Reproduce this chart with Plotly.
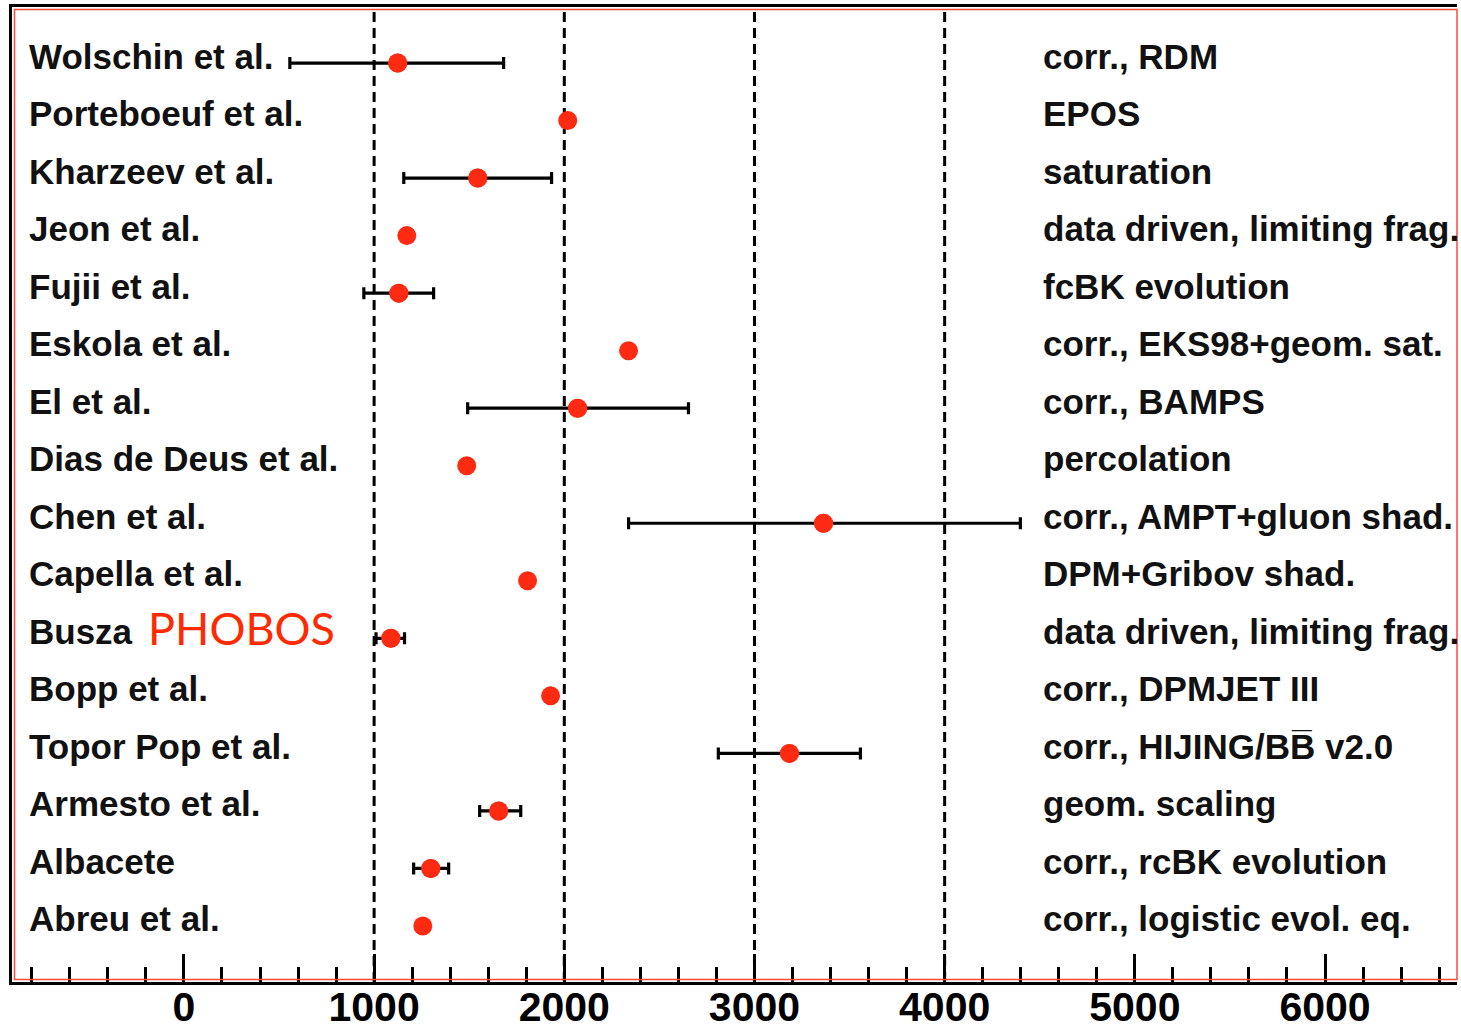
import plotly.graph_objects as go

# ---- data (top row first) ----
authors = ["Wolschin et al.", "Porteboeuf et al.", "Kharzeev et al.", "Jeon et al.",
           "Fujii et al.", "Eskola et al.", "El et al.", "Dias de Deus et al.",
           "Chen et al.", "Capella et al.", "Busza", "Bopp et al.",
           "Topor Pop et al.", "Armesto et al.", "Albacete", "Abreu et al."]
models = ["corr., RDM", "EPOS", "saturation", "data driven, limiting frag.",
          "fcBK evolution", "corr., EKS98+geom. sat.", "corr., BAMPS", "percolation",
          "corr., AMPT+gluon shad.", "DPM+Gribov shad.", "data driven, limiting frag.",
          "corr., DPMJET III", "corr., HIJING/BB\u0305 v2.0", "geom. scaling",
          "corr., rcBK evolution", "corr., logistic evol. eq."]
values = [1124, 2018, 1545, 1172, 1130, 2338, 2070, 1487, 3363, 1807, 1088, 1928,
          3184, 1655, 1298, 1256]
err_low = [557, None, 1156, None, 946, None, 1492, None, 2338, None, 1010, None,
           2810, 1555, 1208, None]
err_high = [1681, None, 1933, None, 1313, None, 2653, None, 4398, None, 1160, None,
            3557, 1771, 1392, None]
phobos_row = "Busza"
ref_lines = [1000, 2000, 3000, 4000]

n = len(authors)
rows = [n - 1 - i for i in range(n)]  # top row has highest y

ex_x, ex_y, ex_p, ex_m = [], [], [], []
for v, r, lo, hi in zip(values, rows, err_low, err_high):
    if lo is not None:
        ex_x.append(v); ex_y.append(r); ex_p.append(hi - v); ex_m.append(v - lo)

RED = "#ff2a12"
fig = go.Figure()
fig.add_trace(go.Scatter(
    x=ex_x, y=ex_y, mode="markers",
    marker=dict(size=19, color=RED),
    error_x=dict(type="data", symmetric=False, array=ex_p, arrayminus=ex_m,
                 color="black", thickness=3.2, width=6),
    showlegend=False, hoverinfo="skip"))
fig.add_trace(go.Scatter(
    x=values, y=rows, mode="markers",
    marker=dict(size=19, color=RED),
    showlegend=False, hoverinfo="skip"))

for xv in ref_lines:
    fig.add_shape(type="line", xref="x", yref="paper", x0=xv, x1=xv, y0=0, y1=1,
                  line=dict(color="black", width=3, dash="10px,6px"), layer="below")

LBL = dict(family="Liberation Sans, Arial, sans-serif", size=35, color="#111111",
           weight="bold")
for a, m, r in zip(authors, models, rows):
    fig.add_annotation(x=0.0105, xref="paper", y=r, yref="y", text=a, showarrow=False,
                       xanchor="left", yanchor="middle", yshift=7, font=LBL)
    fig.add_annotation(x=0.712, xref="paper", y=r, yref="y", text=m, showarrow=False,
                       xanchor="left", yanchor="middle", yshift=7, font=LBL)
    if a == phobos_row:
        fig.add_annotation(x=0.093, xref="paper", y=r, yref="y", text="PHOBOS",
                           showarrow=False, xanchor="left", yanchor="middle", yshift=10,
                           font=dict(family="Lato, Open Sans, sans-serif", size=45,
                                     color="#ff2a00"))

# red inner frame
fig.add_shape(type="rect", xref="paper", yref="paper",
              x0=2.5 / 1445, x1=1, y0=2.5 / 974, y1=1 - 2.5 / 974,
              line=dict(color="#ff4a3a", width=1.5), layer="above")

fig.update_layout(
    width=1461, height=1031,
    margin=dict(l=12, r=4, t=7, b=49),
    paper_bgcolor="white", plot_bgcolor="white",
    xaxis=dict(range=[-904, 6694], dtick=1000, tick0=0, ticks="inside", ticklen=28,
               tickwidth=3, tickcolor="black", showgrid=False, zeroline=False,
               showline=True, linecolor="black", linewidth=3, mirror=True,
               automargin=False, ticklabelstandoff=-13,
               tickfont=dict(family="Liberation Sans, Arial, sans-serif", size=41,
                             color="black", weight="bold"),
               minor=dict(dtick=200, tick0=0, ticks="inside", ticklen=15, tickwidth=3,
                          tickcolor="black", showgrid=False)),
    yaxis=dict(range=[-0.974, 15.974], showticklabels=False, ticks="",
               showgrid=False, zeroline=False, showline=True, linecolor="black",
               linewidth=3, mirror=False, automargin=False),
)

fig.write_html("out.html")
